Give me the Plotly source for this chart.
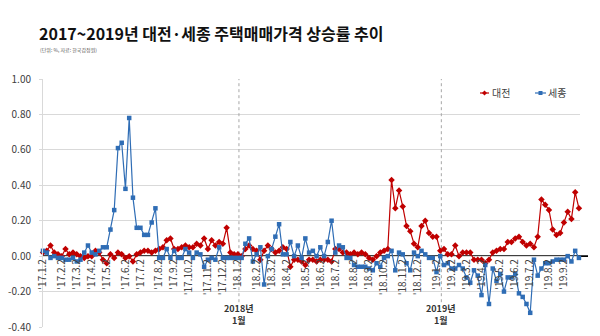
import pandas as pd
import plotly.graph_objects as go

# Weekly housing price change rate (%), first week = 2nd week of Jan 2017
week_start = "2017-01-09"

daejeon = [
    0.02, 0.03, 0.06, 0.02, 0.01, 0.00, 0.04, 0.01, 0.02, 0.01,
    0.00, -0.01, 0.00, 0.00, 0.03, 0.02, -0.02, -0.04, 0.01, -0.01,
    0.02, 0.01, -0.01, 0.00, -0.03, 0.01, 0.02, 0.03, 0.03, 0.02,
    0.03, 0.04, 0.05, 0.09, 0.10, 0.04, 0.04, 0.05, 0.06, 0.05,
    0.05, 0.07, 0.06, 0.10, 0.04, 0.09, 0.06, 0.08, 0.07, 0.16,
    0.02, 0.01, 0.01, 0.00, 0.04, 0.06, 0.04, 0.03, -0.02, 0.03,
    0.06, 0.04, 0.02, 0.03, 0.05, 0.04, -0.06, -0.02, -0.02, -0.03,
    -0.05, -0.02, -0.02, -0.03, -0.02, -0.02, -0.02, -0.03, 0.04, 0.04,
    0.02, 0.02, 0.01, 0.02, 0.01, 0.02, 0.01, -0.01, -0.02, 0.00,
    0.02, 0.03, 0.04, 0.43, 0.27, 0.37, 0.28, 0.17, 0.14, 0.07,
    0.05, 0.17, 0.20, 0.13, 0.11, 0.11, 0.03, 0.04, 0.01, 0.01,
    0.06, 0.00, 0.02, 0.02, 0.02, -0.02, -0.02, -0.02, -0.04, -0.02,
    0.02, 0.03, 0.04, 0.04, 0.08, 0.08, 0.10, 0.11, 0.08, 0.06,
    0.07, 0.05, 0.11, 0.32, 0.29, 0.26, 0.15, 0.12, 0.13, 0.19,
    0.25, 0.21, 0.36, 0.27,
]

sejong = [
    0.03, 0.02, -0.01, 0.00, -0.01, -0.01, -0.02, -0.02, -0.01, -0.03,
    -0.02, 0.02, 0.06, 0.02, 0.01, 0.03, 0.05, 0.05, 0.15, 0.26,
    0.61, 0.64, 0.38, 0.78, 0.33, 0.16, 0.16, 0.12, 0.12, 0.19,
    0.27, -0.01, -0.01, 0.04, -0.01, 0.03, -0.01, -0.01, 0.04, 0.02,
    -0.01, 0.02, 0.01, -0.06, -0.02, -0.01, -0.02, 0.05, -0.01, -0.01,
    -0.01, -0.01, -0.01, -0.01, 0.07, 0.10, -0.03, 0.01, 0.05, -0.16,
    0.00, 0.04, 0.11, 0.18, 0.01, 0.01, 0.08, 0.00, 0.06, -0.01,
    0.10, 0.02, 0.03, 0.00, 0.05, 0.00, 0.08, 0.20, 0.02, 0.06,
    0.05, -0.01, -0.01, -0.05, -0.06, -0.06, -0.06, -0.07, -0.08, -0.04,
    -0.06, -0.01, 0.00, 0.03, -0.08, 0.02, 0.01, -0.04, -0.08, 0.02,
    0.00, 0.03, 0.01, -0.01, -0.01, -0.09, 0.00, -0.05, -0.04, -0.07,
    -0.07, -0.05, -0.07, -0.12, -0.15, -0.08, -0.11, -0.22, -0.05, -0.27,
    -0.07, -0.14, -0.10, -0.20, -0.12, -0.12, -0.10, -0.21, -0.23, -0.27,
    -0.32, -0.02, -0.11, -0.07, -0.04, -0.04, -0.03, -0.02, -0.02, -0.02,
    0.00, -0.03, 0.03, -0.01,
]

month_labels = [
    "'17.1.2", "'17.2.2", "'17.3.2", "'17.4.2", "'17.5.2", "'17.6.2",
    "'17.7.2", "'17.8.2", "'17.9.2", "'17.10.2", "'17.11.2", "'17.12.2",
    "'18.1.2", "'18.2.2", "'18.3.2", "'18.4.2", "'18.5.2", "'18.6.2",
    "'18.7.2", "'18.8.2", "'18.9.2", "'18.10.2", "'18.11.2", "'18.12.2",
    "'19.1.2", "'19.2.2", "'19.3.2", "'19.4.2", "'19.5.2", "'19.6.2",
    "'19.7.2", "'19.8.2", "'19.9.2",
]

y_ticks = [-0.4, -0.2, 0.0, 0.2, 0.4, 0.6, 0.8, 1.0]
y_tick_labels = ["-0.40", "-0.20", "0.00", "0.20", "0.40", "0.60", "0.80", "1.00"]

year_marks = [("2018-01-10", "2018년<br>1월"), ("2019-01-23", "2019년<br>1월")]

RED = "#C00000"
BLUE = "#2F6DB5"
FONT = "Noto Sans CJK KR"

weeks = pd.date_range(week_start, periods=len(daejeon), freq="7D")


def second_monday(year, month):
    first = pd.Timestamp(year=year, month=month, day=1)
    first_monday = first + pd.Timedelta(days=(7 - first.weekday()) % 7)
    return first_monday + pd.Timedelta(days=7)


tick_dates = []
for lab in month_labels:
    yy, mm, _ = lab.strip("'").split(".")
    tick_dates.append(second_monday(2000 + int(yy), int(mm)))

# plot-area geometry (pixels) used to place the overlay text
L, R, T, B = 43, 580, 79, 327


def px_x(px):
    return (px - L) / (R - L)


def px_y(py):
    return (B - py) / (B - T)


fig = go.Figure()
fig.add_trace(go.Scatter(
    x=weeks, y=daejeon, name="대전", mode="lines+markers",
    line=dict(color=RED, width=1.2),
    marker=dict(symbol="diamond", size=5, color=RED),
    cliponaxis=False, showlegend=False,
))
fig.add_trace(go.Scatter(
    x=weeks, y=sejong, name="세종", mode="lines+markers",
    line=dict(color=BLUE, width=1.2),
    marker=dict(symbol="square", size=4.5, color=BLUE),
    cliponaxis=False, showlegend=False,
))

shapes = [
    # zero baseline
    dict(type="line", xref="paper", yref="y", x0=0, x1=px_x(588), y0=0, y1=0,
         line=dict(color="#000000", width=1.6), layer="between"),
]
annotations = []
for d, txt in year_marks:
    shapes.append(dict(type="line", xref="x", yref="y", x0=d, x1=d, y0=-0.26, y1=1.0,
                       line=dict(color="#A6A6A6", width=1, dash="dot"), layer="between"))
    annotations.append(dict(x=d, xref="x", y=px_y(314), yref="paper", text="<b>" + txt + "</b>",
                            showarrow=False, xanchor="center", yanchor="middle",
                            font=dict(family=FONT, size=9, color="#333333")))

# legend glyphs
ly = px_y(93)
shapes.append(dict(type="line", xref="paper", yref="paper", x0=px_x(480), x1=px_x(489),
                   y0=ly, y1=ly, line=dict(color=RED, width=1.2)))
shapes.append(dict(type="path", xref="paper", yref="paper",
                   path="M {a},{b} L {c},{d} L {a},{e} L {f},{d} Z".format(
                       a=px_x(484.5), b=px_y(90.5), c=px_x(487), d=px_y(93),
                       e=px_y(95.5), f=px_x(482)),
                   fillcolor=RED, line=dict(color=RED, width=0)))
shapes.append(dict(type="line", xref="paper", yref="paper", x0=px_x(535), x1=px_x(546),
                   y0=ly, y1=ly, line=dict(color=BLUE, width=1.2)))
shapes.append(dict(type="rect", xref="paper", yref="paper", x0=px_x(538.5), x1=px_x(542.5),
                   y0=px_y(95), y1=px_y(91), fillcolor=BLUE, line=dict(color=BLUE, width=0)))
annotations.append(dict(x=px_x(490), y=ly, xref="paper", yref="paper", text="대전",
                        showarrow=False, xanchor="left", yanchor="middle",
                        font=dict(family=FONT, size=10, color="#404040")))
annotations.append(dict(x=px_x(546), y=ly, xref="paper", yref="paper", text="세종",
                        showarrow=False, xanchor="left", yanchor="middle",
                        font=dict(family=FONT, size=10, color="#404040")))

# title and source note
annotations.append(dict(x=px_x(37), y=px_y(33), xref="paper", yref="paper",
                        text="<b>2017~2019년 대전·세종 주택매매가격 상승률 추이</b>",
                        showarrow=False, xanchor="left", yanchor="middle",
                        font=dict(family=FONT, size=16, color="#111111")))
annotations.append(dict(x=px_x(38), y=px_y(50), xref="paper", yref="paper",
                        text="(단위: %, 자료: 한국감정원)",
                        showarrow=False, xanchor="left", yanchor="middle",
                        font=dict(family=FONT, size=5, color="#555555")))

fig.update_layout(
    width=600, height=336,
    margin=dict(l=L, r=600 - R, t=T, b=336 - B, pad=0),
    paper_bgcolor="white", plot_bgcolor="white",
    showlegend=False,
    shapes=shapes, annotations=annotations,
    xaxis=dict(
        type="date",
        range=[weeks[0], weeks[-1] + pd.Timedelta(days=2)],
        anchor="free", position=0.4 / 1.4, automargin=False,
        tickmode="array", tickvals=tick_dates, ticktext=month_labels,
        tickangle=-90, ticks="", showgrid=False, showline=False, zeroline=False,
        tickfont=dict(family=FONT, size=10, color="#404040"),
    ),
    yaxis=dict(
        range=[-0.4, 1.0], automargin=False,
        tickmode="array", tickvals=y_ticks, ticktext=y_tick_labels,
        showgrid=True, gridcolor="#D9D9D9", gridwidth=1,
        showline=True, linecolor="#D9D9D9", linewidth=1,
        ticks="outside", ticklen=3, tickcolor="#D9D9D9",
        zeroline=False, ticklabelstandoff=6,
        tickfont=dict(family=FONT, size=10, color="#404040"),
    ),
)

fig.write_html("out.html")
